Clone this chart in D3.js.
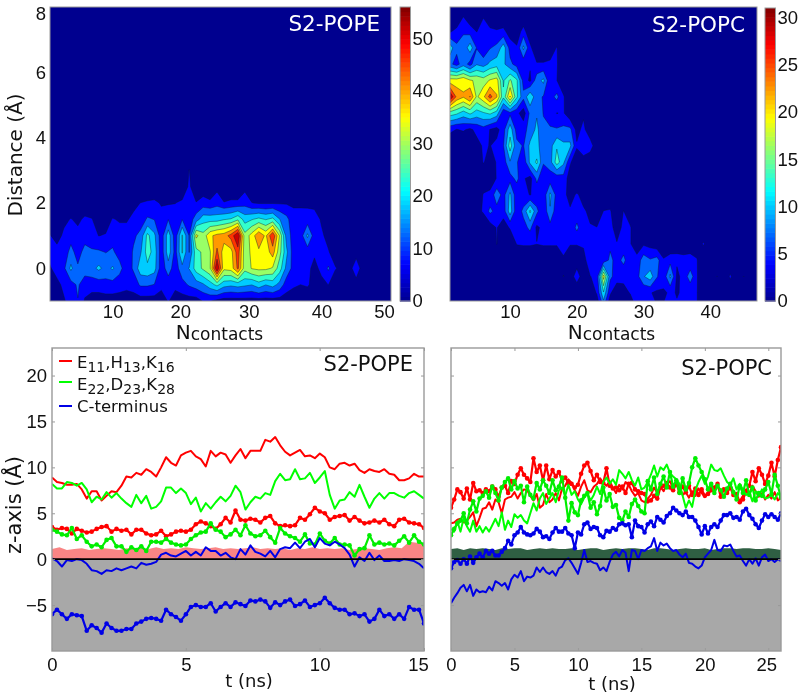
<!DOCTYPE html>
<html><head><meta charset="utf-8">
<script src="https://cdn.jsdelivr.net/npm/d3@7"></script>
<style>html,body{margin:0;padding:0;background:#fff}svg{display:block;filter:blur(0.45px)}</style>
</head><body><svg id="c" width="800" height="694"></svg>
<script>
// ---------- contour data: POPE, N = 1.. ; distance rows -1 .. 3.5
const pope_m10=[0,2,5,8,11,5,3,3,3,3,3,3,3,3,3,3,3,6,3,3,3,3,6,6,4,3,3,3,3,3,3,3,3,3,3];
const pope_m05=[2,4,7,9,12,8,8,8,9,9,8,7,8,12,12,11,7,8,7,9,12,14,16,20,24,19,18,19,18,17,20,17,19,15,8,7,5.6,6.5,3,4,5.7,2,0,0,2];
const pope_p00=[5,8,10,18,12,14,15,18,15,17.5,13,8,12,20,21,19,8,14,8,15,17,25,29,33,56,35,36,46,30,34,35,35,33,25,15,9,7,7,4,7,12,6,4,2,10.9,1];
const pope_p05=[8,8,8,13,9,13,12,12,11,12,9,7,12,16,25,20,8,20,9,23,11,26,29,33,46,36,37,48,30,35,38,36,42,30,18,8,7,8,6.5,6,6,3,0,0,2];
const pope_p10=[6,3,7,9,8,9,8,5.5,6,9,8,8,10,13,24,18,8,20,8,23,11,35,30,38,41,42,47,56,30,36,44,38,50,33,14,9,8,18,8,6.5,4,2];
const pope_p15=[3,1,4,6,4,7,6,2,3,6,5,5,7,8,12,11,8,11,8,11,8,14,20,20,20,22,23,27,20,22,24,22,24,17,13,7,7,8,8,5,2];
const pope_p20=[0,0,0,0,0,0,0,0,0,1,1,1,4,5.7,6.5,7,5,5,5.5,7,9,6,8,7,9,6,7,7,9,5.8,5,5,5,5,5,5,5,4.5,4,1];
const pope_p25=[0,0,0,0,0,0,0,0,0,0,0,0,0,0,0,0,0,0,0,0,7,0,2,0,4,0,0,0,4];
const pope_p30=[0,0,0,0,0,0,0,0,0,0,0,0,0,0,0,0,0,0,0,0,5.8];
const pope_p35=[0];
// ---------- contour data: POPC, N = 1.. ; distance rows -1.25 .. 8.25
const popc_a=[0,0,0,0,0,0,0,0,0,0,0,0,0,0,0,0,0,0,0,0,0,0,0,6,0,0,0,0,3.3,3.3,3.3,3.3,3.3,3.3,3.3,3.3,3.3,3.3];
const popc_b=[0,0,0,0,0,0,0,0,0,0,0,0,0,0,0,0,0,0,0,0,0,1,3.4,12,3.5,1,2,3.3,3.4,3.4,3.3,2.5,2.8,3.4,3,3.3,3.3,3.3];
const popc_c=[0,0,0,0,0,0,0,0,0,0,0,0,0,0,0,0,0,3.2,1,5,1,3,4,20,7,4.5,4,3.5,5,9,11,6.5,4,10,2.5,4,8,3.4,0,0,3.2,0,3.7,0,3.2];
const popc_d=[0,0,0,0,0,0,0,0,0,0,0,0,0,0,0,0,0,2,1,1,2,5,4,4,7,5,7,4,4,8,6.5,7.5,3.5,5,3.5,3.4,3.5,3.3];
const popc_e=[0,0,0,0,0,0,0,3.2,0,0,3.3,3.5,3.5,3.2,3.5,3.5,3.5,6,3.3,3.3,3.5,3.5,3.3,5,5.5,3.5,4.5,3.3,1.5,2.6,2,1,0,0,2.5,2.5,2.5,1.5,3.5];
const popc_f=[0,0,0,0,0,0.5,1.5,3.3,1.5,3.5,4,5,7,2.5,4,5,3.5,4,3.5,7,3.8,3.3,3.2,5,5,0.5,4.5,3.5];
const popc_g=[0,0,0,0,2,3.5,7,5,4.5,11,4,7,13,7,3.5,9,4,3.3,3.5,4,3.5,2.5,0,3.2,3.5,0,3.2,0.5];
const popc_h=[0,0,0,0,0,3.4,4,8,5,10,4,3.8,3,4,4,10,5,4,2,3.5,2];
const popc_i=[0,0,0,0,0,0.5,1,3.3,3.3,5,7,3.5,2,7,4,4.5,4,5,1.5];
const popc_j=[0,0,0,0,1,3.3,2,3.3,4.5,9,6.5,4,10,13,6.5,8,14,10,3.5,1,2.5];
const popc_k=[0,0,0,0,2,3.5,3,4,6,14,7,6,10,10,8,8,12,10,10,3.5,4,5,0.5];
const popc_l=[4,3,3.5,2.5,4,5,3,2,5,11,5,5,7.5,10,7,6.5,6.5,7,7,2,4,0.5];
const popc_m=[14,13,11,13,11,12,13,11,4,5.5,4,1.5,7,9,6,5,3,3.5,0.5,0,2.5];
const popc_n=[31,24,22,25,18,21,26,22,13,22,13,7,12,7,6,5,7,3.5];
const popc_o=[20,20,21,19,18,17,19,20,12,16,13,5,2.5,8,10,3.5,3.2,0.5];
const popc_p=[7,5,8,5,9,8,10,11,10,7,5,4,3.5,3.5,3.5,3.8,3.5];
const popc_q=[11,7,7,11,6,3.5,6,7,11,5,3.5,10,4,0,0,1,3.3];
const popc_r=[2.8,4,6,5,3,5,4,3.5,4,1.5,1,4.5,0.5];
const popc_s=[0,0,2.8,0,0,2.7];
const popc_t=[0];

// ---------- line data (z, Angstrom)
const popeRedThin=[8.9,8.4,8.3,8.1,8.1,8.2,7.6,6.6,7.4,7.4,6.4,6.9,7.4,7.3,8.0,9.0,8.9,9.4,9.2,9.8,9.5,9.0,10.0,11.1,10.5,10.2,11.3,11.6,11.8,11.2,10.9,10.1,11.8,11.2,11.6,11.4,10.5,11.3,12.0,11.0,11.8,11.8,11.8,13.0,12.8,13.3,12.4,11.7,11.3,11.6,11.9,11.2,11.3,11.0,11.5,11.1,10.0,9.8,10.4,10.5,10.2,10.4,9.7,9.4,9.8,9.6,9.5,9.8,9.3,9.2,8.6,8.6,8.8,9.3,9.0,9.0];
const popeGreenThin=[8.2,7.7,7.7,8.4,8.3,8.0,8.3,7.6,6.2,6.8,6.5,7.3,6.7,7.2,6.6,6.1,5.7,7.0,6.1,6.9,5.5,5.7,6.3,7.8,7.8,7.2,7.7,7.2,6.0,6.7,5.2,6.1,5.5,6.2,6.8,6.3,6.9,8.0,7.3,5.4,6.2,6.8,6.6,7.2,7.0,8.5,9.3,8.6,8.7,9.8,8.7,8.8,9.4,8.3,8.9,9.6,7.0,5.5,6.4,6.5,7.3,6.8,8.1,6.8,5.6,6.6,7.2,6.6,7.2,7.2,6.9,6.7,7.2,7.4,7.0,6.6];
const popeRedDots=[3.5,3.2,3.4,3.3,2.8,3.3,3.1,2.9,3.0,3.3,3.5,3.6,3.0,3.3,3.1,3.2,2.7,3.2,3.2,2.8,2.6,2.7,3.1,2.5,2.7,3.0,3.1,3.0,3.2,3.8,4.1,3.9,3.6,3.3,3.8,4.5,4.0,5.3,4.3,4.2,4.4,4.3,4.0,4.5,4.7,3.9,3.6,3.7,3.6,3.7,4.5,4.3,4.9,5.6,5.2,5.0,4.3,4.6,4.7,4.8,4.2,4.6,4.2,3.9,4.0,4.2,4.0,4.3,3.8,3.6,4.3,4.4,4.0,3.9,3.8,3.4];
const popeGreenDots=[3.2,3.0,2.7,2.6,3.4,2.2,2.6,1.9,1.4,1.6,1.3,2.1,2.3,1.4,1.4,0.8,1.3,1.0,1.4,0.9,1.9,1.9,1.8,2.2,1.8,1.6,1.5,1.6,2.2,2.6,2.9,3.0,3.9,3.2,3.0,2.4,2.7,3.2,2.6,3.7,2.8,2.5,2.6,3.1,2.4,1.8,3.4,2.8,2.5,2.3,1.9,2.7,1.7,1.6,2.8,2.0,1.7,2.3,1.6,1.6,1.5,0.4,1.1,1.2,2.6,1.6,1.8,1.6,1.7,1.5,2.0,2.5,1.8,2.6,1.9,1.6];
const popeBlueThin=[0.1,-0.2,-0.8,-0.1,-0.2,0.0,-0.1,-0.5,-1.2,-1.3,-1.6,-1.2,-1.3,-1.0,-1.2,-1.0,-0.8,-1.0,-0.4,-0.6,-0.5,-0.3,0.5,0.7,0.4,0.3,0.6,0.9,0.4,0.8,0.4,1.3,0.9,0.9,0.4,0.7,0.2,0.0,1.1,0.5,1.5,0.8,0.6,0.3,0.9,0.2,1.1,1.3,1.2,1.8,1.2,1.9,2.2,1.3,2.3,1.7,1.5,1.9,1.6,1.2,0.5,-0.8,0.2,-0.2,0.7,-0.1,0.4,-0.2,-0.2,-0.1,-0.2,0.0,-0.1,-0.2,-0.5,-1.0];
const popeBlueDots=[-6.0,-5.5,-6.0,-6.5,-6.0,-6.1,-6.2,-7.8,-7.2,-7.5,-8.0,-7.0,-7.5,-7.8,-7.8,-7.6,-7.6,-7.0,-6.8,-6.5,-6.4,-6.5,-6.7,-5.5,-6.0,-6.3,-6.7,-6.0,-5.2,-5.0,-5.2,-5.2,-4.8,-5.7,-5.2,-4.8,-5.2,-4.7,-4.9,-5.1,-4.5,-4.6,-4.4,-4.6,-5.3,-4.7,-5.0,-4.6,-4.4,-5.1,-4.9,-4.5,-5.2,-5.0,-4.8,-4.2,-4.8,-5.3,-5.5,-5.5,-6.0,-5.9,-6.2,-6.0,-6.8,-6.5,-5.5,-6.2,-6.0,-6.5,-6.0,-6.5,-5.2,-5.5,-5.5,-7.0];
const popeBand=[1.1,1.3,1.0,1.1,1.2,1.0,1.1,1.2,1.1,1.0,1.2,1.1,1.2,1.1,1.3,1.1,1.2,1.1,1.3,1.2,1.1,1.2,1.3,1.1,1.2,1.1,1.2,1.3,1.1,1.2,1.1,1.2,1.0,1.2,1.1,1.3,1.1,1.2,1.1,1.2,1.0,1.1,1.2,1.1,1.0,1.2,1.3,1.2,1.9,1.8,1.7];

const popcBlueThin=[-4.8,-4.2,-3.7,-3.1,-2.8,-3.5,-2.8,-4.0,-3.3,-3.6,-3.5,-3.6,-3.0,-3.4,-2.4,-2.6,-2.9,-2.6,-3.3,-2.2,-1.7,-2.0,-1.3,-2.4,-1.9,-2.0,-1.8,-0.9,-1.4,-0.9,-1.4,-1.6,-1.3,-1.8,-1.0,-0.8,-0.1,0.1,-0.4,-1.0,-1.6,-0.4,1.0,-0.3,-0.2,-0.4,-0.5,-1.2,-0.9,-1.3,-0.3,0.5,0.8,0.3,1.0,0.7,-1.3,1.0,0.9,0.0,1.0,0.9,1.2,1.4,2.3,0.9,1.8,1.5,1.7,1.2,0.9,1.0,0.5,0.2,0.6,-0.4,-0.5,-0.8,-1.0,-0.7,0.2,0.6,1.0,2.1,1.0,0.9,1.5,1.4,1.6,0.9,0.3,0.4,-0.2,-0.7,0.0,-0.5,0.1,-0.7,0.2,0.5,-0.2,0.0,-0.3,0.0,-0.2];
const popcBlueDots=[-1.0,-0.3,-0.1,-0.5,0.0,-0.5,0.3,-0.4,0.2,0.6,0.2,0.9,0.6,0.9,0.4,0.4,0.8,1.2,2.0,1.6,2.6,2.9,3.5,2.9,2.7,2.6,2.8,3.3,3.0,2.4,2.5,2.2,2.9,3.4,3.0,3.0,3.4,2.8,2.6,1.2,2.9,2.7,3.8,4.0,3.3,3.5,3.4,2.6,2.4,3.1,3.0,3.4,3.2,3.8,3.9,3.7,3.8,2.4,4.2,3.6,3.5,2.9,3.8,4.1,3.6,4.6,4.3,4.0,4.7,5.0,5.6,5.3,5.0,4.8,5.2,4.6,4.6,4.2,3.5,2.7,3.6,2.8,3.5,3.8,3.5,4.2,4.8,4.8,5.0,4.5,4.6,4.3,5.2,5.5,4.8,4.4,3.8,3.4,4.2,4.9,4.6,4.9,4.6,4.3,5.0];
const popcRedDots=[5.6,6.5,7.6,7.3,6.6,7.7,6.5,8.3,7.4,7.5,7.2,7.6,7.4,7.9,7.6,6.8,7.8,8.0,7.2,8.5,8.2,9.2,9.9,9.2,8.8,8.4,11.0,9.5,10.2,8.6,10.2,8.7,9.7,9.0,9.5,8.5,8.9,8.3,8.2,7.8,8.1,9.3,10.2,10.5,9.6,8.6,9.2,8.4,8.3,9.9,8.0,7.7,7.8,7.5,7.9,7.2,8.2,8.3,7.6,7.4,7.2,7.1,6.3,6.4,6.9,6.6,7.8,8.0,8.3,7.8,7.5,8.2,7.3,7.9,7.3,8.0,7.0,7.7,7.0,7.6,6.9,7.1,7.5,7.8,8.2,6.8,7.6,7.2,7.8,7.0,7.1,6.2,6.5,7.4,8.0,9.5,8.5,9.9,9.2,8.2,9.1,10.5,9.0,10.8,12.2];
const popcRedThin=[3.9,4.0,4.3,4.4,4.0,4.2,4.6,5.1,3.6,4.5,5.5,5.6,6.2,5.4,6.5,6.2,5.0,6.5,6.7,6.8,7.3,6.6,7.2,7.6,7.5,6.9,6.4,7.1,5.6,5.9,7.1,6.2,6.5,7.2,6.4,7.7,8.0,8.7,8.3,7.5,6.9,7.9,8.6,7.5,7.3,7.9,8.2,8.8,8.3,8.0,8.5,7.8,7.2,8.1,7.6,8.4,8.1,7.4,6.9,7.2,6.4,6.2,6.6,7.0,7.8,7.2,7.9,7.4,8.2,8.5,7.7,8.3,7.9,7.0,7.3,6.7,7.4,6.9,7.7,7.2,6.8,7.3,7.9,7.6,8.0,7.2,6.9,7.5,8.1,7.3,6.7,6.3,6.9,7.6,7.1,8.0,7.4,6.8,7.2,6.5,7.0,6.6,7.3,6.4,6.7];
const popcGreenThin=[3.3,3.0,4.1,3.0,4.5,3.6,3.0,4.2,3.0,3.6,2.9,3.5,3.0,3.7,4.4,3.6,5.1,3.2,4.2,3.5,4.9,4.5,4.8,4.2,3.9,5.0,6.1,5.3,6.6,7.2,6.0,6.6,7.2,6.2,7.5,7.8,6.9,8.1,7.0,7.4,6.5,6.0,6.7,7.2,6.4,7.0,7.9,7.1,8.4,8.9,8.2,8.7,8.1,9.7,9.3,8.8,9.5,8.6,8.0,8.9,7.6,7.8,8.4,9.2,10.2,9.0,10.0,9.7,10.3,9.4,9.0,8.7,8.2,6.9,5.6,6.4,5.7,7.5,8.4,9.1,8.2,9.0,10.3,9.7,9.6,9.9,9.1,8.4,8.1,8.8,7.6,8.2,7.6,7.0,7.3,6.3,7.4,6.9,7.6,6.6,6.7,7.0,6.5,7.2,6.8];
const popcGreenDots=[2.6,3.3,3.9,4.2,5.0,3.9,5.4,6.3,5.2,6.6,6.9,7.4,6.7,7.9,7.2,6.4,7.8,8.4,8.8,7.6,8.5,7.7,8.0,6.2,7.9,7.0,6.6,8.3,7.6,8.6,8.0,7.2,8.6,7.5,7.9,8.9,6.7,4.2,6.1,5.1,4.8,6.4,6.9,7.2,5.6,6.2,4.9,5.8,7.8,6.4,7.1,5.7,5.9,4.5,4.2,5.2,4.6,6.0,6.5,5.8,5.2,5.0,8.5,7.6,8.9,7.1,8.2,9.0,7.8,9.5,7.9,8.6,7.2,8.8,7.6,8.3,10.0,11.0,10.2,9.5,8.7,7.6,8.2,7.2,8.0,7.5,6.8,7.7,8.2,7.3,6.5,8.0,7.2,8.6,7.0,7.8,6.4,7.2,6.9,7.6,8.4,7.1,9.2,8.0,6.7];
const popcBand=[1.1,1.2,1.0,1.2,1.1,1.2,1.1,1.0,1.2,1.1,1.2,1.2,1.0,1.1,1.2,1.1,1.2,1.1,1.1,1.2,1.0,1.1,1.2,1.2,1.0,1.1,1.2,1.1,1.2,1.2,1.1,1.0,1.2,1.2,1.1,1.0,1.1,1.2,1.1,1.1,1.2,1.0,1.1,1.2,1.2,1.1,1.2,1.2,1.1,1.1,1.2,1.1,1.0];

const legendLabels=[["E",11,",H",13,",K",16],["E",22,",D",23,",K",28],["C-terminus"]];
const xTicksPope=[10,20,30,40,50], xTicksPopc=[10,20,30,40];
const yTicksDist=[0,2,4,6,8];
const cbTicksPope=[0,10,20,30,40,50], cbTicksPopc=[0,5,10,15,20,25,30];
const zTicks=[-5,0,5,10,15,20];
const popeTimeTicks=[0,5,10,13.9], popeTimeLabels=["0","5","10","15"];
const popcTimeTicks=[0,5,10,15,20,25];

// ---------- helpers
const svg=d3.select("#c");
const SANS="'Liberation Sans',Arial,sans-serif", DV="'DejaVu Sans',sans-serif", FRAME="#9a9a9a";
const jet=d3.scaleLinear().domain([0,.125,.375,.625,.875,1])
  .range(["#00008f","#0000ff","#00ffff","#ffff00","#ff0000","#800000"]).clamp(true);
const defs=svg.append("defs");
let clipId=0;
function clip(x0,y0,x1,y1){const id="cl"+(clipId++);
  defs.append("clipPath").attr("id",id).append("rect").attr("x",x0).attr("y",y0).attr("width",x1-x0).attr("height",y1-y0);return `url(#${id})`;}
function styleAxis(g,size){g.select(".domain").remove();
  g.selectAll(".tick line").attr("stroke",FRAME);
  g.selectAll("text").attr("font-family",SANS).attr("font-size",size).attr("fill","#111");}

function contourPanel(o){
  const {x0,x1,y0,y1,xDom,rows,dStart,max,ticks,title,titleX,titleY,cbX,cbTop,cbTicks,showY,nx}=o;
  const X=d3.scaleLinear().domain(xDom).range([x0,x1]);
  const Y=d3.scaleLinear().domain([-1,8]).range([y1,y0]);
  const grid=[];rows.forEach(r=>{for(let i=0;i<nx;i++)grid.push(r[i]===undefined?0:r[i]);});
  const step=max/10, levels=d3.range(1,10).map(i=>i*step);
  const contours=d3.contours().size([nx,rows.length]).thresholds(levels)(grid);
  const path=d3.geoPath(d3.geoTransform({point(px,py){
    this.stream.point(X(xDom[0]+px-.5),Y(dStart+(py-.5)*.5));}}));
  const g=svg.append("g");
  g.append("rect").attr("x",x0).attr("y",y0).attr("width",x1-x0).attr("height",y1-y0).attr("fill",jet(0));
  g.append("g").attr("clip-path",clip(x0,y0,x1,y1)).selectAll("path").data(contours).join("path")
    .attr("d",path).attr("fill",d=>jet((d.value+step/4)/max)).attr("stroke","#0a1a30").attr("stroke-width",.55).attr("stroke-opacity",.75);
  g.append("rect").attr("x",x0).attr("y",y0).attr("width",x1-x0).attr("height",y1-y0).attr("fill","none").attr("stroke",FRAME).attr("stroke-width",1);
  const ax=g.append("g").attr("transform",`translate(0,${y1})`).call(d3.axisBottom(X).tickValues(ticks).tickSize(0).tickPadding(4));
  styleAxis(ax,18.5);
  if(o.labelShift) ax.selectAll(".tick text").attr("dx",d=>o.labelShift[d]||0);
  if(showY){
    const ay=g.append("g").attr("transform",`translate(${x0},0)`).call(d3.axisLeft(Y).tickValues(yTicksDist).tickSize(0).tickPadding(4));
    styleAxis(ay,18.5);
    ay.selectAll(".tick text").attr("y",d=>d===8?7:0);
    g.append("text").attr("transform",`translate(22,155) rotate(-90)`).attr("text-anchor","middle")
      .attr("font-family",DV).attr("font-size",20).attr("fill","#111").text("Distance (Å)");
  }
  const nl=g.append("text").attr("x",(x0+x1)/2+o.nShift).attr("y",339).attr("text-anchor","middle").attr("font-family",DV).attr("fill","#111");
  nl.append("tspan").attr("font-size",20).text("N");
  nl.append("tspan").attr("font-size",17).attr("dy",1).text("contacts");
  g.append("text").attr("x",titleX).attr("y",titleY).attr("text-anchor","end").attr("font-family",DV).attr("font-size",21.5).attr("fill","#fff").text(title);
  // colour bar
  const C=d3.scaleLinear().domain([0,max]).range([y1,cbTop]);
  const cells=d3.range(64);
  g.selectAll(".cb"+cbX).data(cells).join("rect").attr("x",cbX).attr("width",10.5)
    .attr("y",d=>C((d+1)/64*max)).attr("height",d=>C(d/64*max)-C((d+1)/64*max)+.6)
    .attr("fill",d=>jet((d+.5)/64));
  g.append("rect").attr("x",cbX).attr("y",cbTop).attr("width",10.5).attr("height",C(0)-cbTop).attr("fill","none").attr("stroke",FRAME).attr("stroke-width",1);
  const ac=g.append("g").attr("transform",`translate(${cbX+10.5},0)`).call(d3.axisRight(C).tickValues(cbTicks).tickSize(0).tickPadding(2));
  styleAxis(ac,18.5);
  return g;
}

function linePanel(o){
  const {x0,x1,xMax,xTicks,xFormat,band,bandColor,series,title,titleX,titleY,showY}=o;
  const y0=348,y1=651;
  const X=d3.scaleLinear().domain([0,xMax]).range([x0,x1]);
  const Y=d3.scaleLinear().domain([-10,23]).range([y1,y0]);
  const g=svg.append("g");
  const cp=clip(x0,y0,x1,y1);
  const plot=g.append("g").attr("clip-path",cp);
  plot.append("rect").attr("x",x0).attr("y",Y(0)).attr("width",x1-x0).attr("height",y1-Y(0)).attr("fill","#a8a8a8");
  const bandStep=xMax/(band.length-1);
  plot.append("path").datum(band).attr("fill",bandColor)
    .attr("d",d3.area().x((d,i)=>X(i*bandStep)).y0(Y(0)).y1(d=>Y(d)));
  series.forEach(s=>{
    const st=xMax/(s.v.length-1);
    plot.append("path").datum(s.v).attr("fill","none").attr("stroke",s.c).attr("stroke-width",s.dots?2.2:2)
      .attr("stroke-linejoin","round").attr("d",d3.line().x((d,i)=>X(i*st)).y(d=>Y(d)));
    if(s.dots) plot.append("g").selectAll("circle").data(s.v).join("circle")
      .attr("cx",(d,i)=>X(i*st)).attr("cy",d=>Y(d)).attr("r",2.3).attr("fill",s.c);
  });
  plot.append("line").attr("x1",x0).attr("x2",x1).attr("y1",Y(0)).attr("y2",Y(0)).attr("stroke","#000").attr("stroke-width",1.8);
  g.append("rect").attr("x",x0).attr("y",y0).attr("width",x1-x0).attr("height",y1-y0).attr("fill","none").attr("stroke",FRAME).attr("stroke-width",1.4);
  const ab=g.append("g").attr("transform",`translate(0,${y1})`).call(d3.axisBottom(X).tickValues(xTicks).tickFormat(xFormat||null).tickSizeInner(-3).tickSizeOuter(0).tickPadding(7));
  styleAxis(ab,18.5);
  if(o.lastShift) ab.selectAll(".tick:last-of-type text").attr("dx",o.lastShift);
  const at=g.append("g").attr("transform",`translate(0,${y0})`).call(d3.axisBottom(X).tickValues(xTicks).tickSize(3).tickFormat(""));
  styleAxis(at,17);
  const al=g.append("g").attr("transform",`translate(${x0},0)`).call(d3.axisLeft(Y).tickValues(zTicks).tickSizeInner(-3).tickSizeOuter(0).tickPadding(5).tickFormat(showY?null:""));
  styleAxis(al,18.5);
  const ar=g.append("g").attr("transform",`translate(${x1},0)`).call(d3.axisLeft(Y).tickValues(zTicks).tickSize(3).tickFormat(""));
  styleAxis(ar,17);
  g.append("text").attr("x",(x0+x1)/2+o.tShift).attr("y",o.tY).attr("text-anchor","middle").attr("font-family",DV).attr("font-size",18).attr("fill","#111").text("t (ns)");
  g.append("text").attr("x",titleX).attr("y",titleY).attr("text-anchor","end").attr("font-family",DV).attr("font-size",21).attr("fill","#111").text(title);
  return g;
}

// ---------- panels
contourPanel({x0:50,x1:391,y0:7,y1:301,xDom:[1,50],nx:50,dStart:-1,max:56,ticks:xTicksPope,labelShift:{20:-2,30:-3,50:-7},
  rows:[pope_m10,pope_m05,pope_p00,pope_p05,pope_p10,pope_p15,pope_p20,pope_p25,pope_p30,pope_p35],
  title:"S2-POPE",titleX:380,titleY:31,cbX:400,cbTop:7,cbTicks:cbTicksPope,showY:true,nShift:-1});
contourPanel({x0:450,x1:757,y0:7,y1:301,xDom:[1,47],nx:47,dStart:-1.25,max:31,ticks:xTicksPopc,
  rows:[popc_a,popc_b,popc_c,popc_d,popc_e,popc_f,popc_g,popc_h,popc_i,popc_j,popc_k,popc_l,popc_m,popc_n,popc_o,popc_p,popc_q,popc_r,popc_s,popc_t],
  title:"S2-POPC",titleX:745,titleY:32,cbX:765,cbTop:8,cbTicks:cbTicksPopc,showY:false,nShift:8});

linePanel({x0:52,x1:424,xMax:13.9,xTicks:popeTimeTicks,xFormat:(d,i)=>popeTimeLabels[i],lastShift:-6,band:popeBand,bandColor:"#f98585",title:"S2-POPE",titleX:413,titleY:371,showY:true,tShift:11,tY:687,
  series:[{v:popeRedThin,c:"#ff0000"},{v:popeGreenThin,c:"#00ff00"},{v:popeRedDots,c:"#ff0000",dots:1},{v:popeGreenDots,c:"#00ee00",dots:1},{v:popeBlueThin,c:"#0000e6"},{v:popeBlueDots,c:"#0000e6",dots:1}]});
linePanel({x0:451,x1:781,xMax:26,xTicks:popcTimeTicks,lastShift:-2,band:popcBand,bandColor:"#2f5f43",title:"S2-POPC",titleX:772,titleY:375,showY:false,tShift:-4,tY:690,
  series:[{v:popcRedThin,c:"#ff0000"},{v:popcRedDots,c:"#ff0000",dots:1},{v:popcGreenThin,c:"#00ff00"},{v:popcGreenDots,c:"#00ee00",dots:1},{v:popcBlueThin,c:"#0000e6"},{v:popcBlueDots,c:"#0000e6",dots:1}]});

svg.append("text").attr("transform","translate(21,505) rotate(-90)").attr("text-anchor","middle")
  .attr("font-family",DV).attr("font-size",21).attr("fill","#111").text("z-axis (Å)");

// legend
const legendColors=["#ff0000","#00ff00","#0000e6"], legendY=[361,382,406], legendBase=[368,390,412];
legendLabels.forEach((parts,k)=>{
  svg.append("line").attr("x1",59).attr("x2",72).attr("y1",legendY[k]).attr("y2",legendY[k]).attr("stroke",legendColors[k]).attr("stroke-width",2);
  const t=svg.append("text").attr("x",77).attr("y",legendBase[k]).attr("font-family",DV).attr("font-size",16.5).attr("fill","#111");
  parts.forEach((p,j)=>{
    const sub=typeof p==="number";
    t.append("tspan").attr("font-size",sub?14:16.5).attr("dy",sub?4:(j===0?0:-4)).text(p);
  });
});
</script></body></html>
